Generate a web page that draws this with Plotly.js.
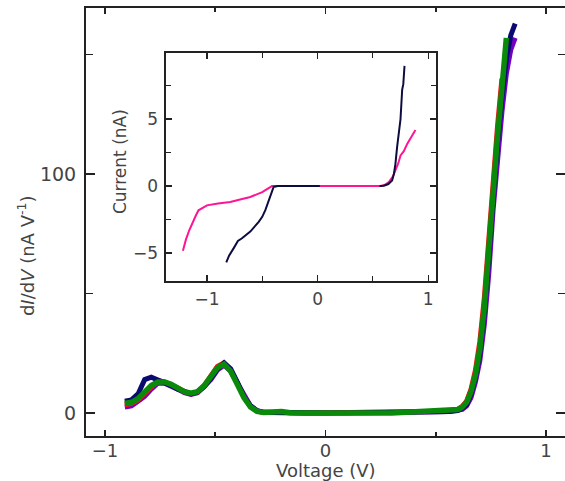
<!DOCTYPE html>
<html>
<head>
<meta charset="utf-8">
<script src="https://cdn.plot.ly/plotly-3.0.1.min.js"></script>
<style>html,body{margin:0;padding:0;background:#fff;}#chart{width:565px;height:481px;}</style>
</head>
<body>
<div id="chart"></div>
<script>
// Main panel: dI/dV (nA V^-1) vs Voltage (V), four overlapping sweeps
const voltage = [-0.91,-0.88,-0.85,-0.82,-0.79,-0.76,-0.73,-0.70,-0.67,-0.64,-0.61,-0.58,-0.55,-0.52,-0.49,-0.46,-0.43,-0.40,-0.37,-0.34,-0.31,-0.28,-0.24,-0.20,-0.16,-0.10,0.00,0.10,0.20,0.30,0.36,0.40,0.50,0.56,0.60,0.62,0.64,0.66,0.68,0.70,0.72,0.74,0.76,0.78,0.80,0.82,0.84,0.86];
const didvPurple = [2.5,3,5,7,10,12.5,12.5,11.5,10,8.5,7.8,8.5,11,14,18,20,17.5,12.5,7,3,1,0.3,0.2,0.4,0.1,0,0,0,0,0,0.2,0.4,0.5,0.6,0.9,1.5,3,6.5,13,22,37,58,85,108,126,142,152,157];
const didvRed = [3.5,4,5.5,8,11,13.5,13,12,10.5,9,8,8.7,11.5,15.5,19.5,21,18,12.5,6.8,2.8,0.8,0.2,0.3,0.5,0.1,0,0,0,0,0,0.3,0.5,0.6,0.8,1.6,2.8,5,10,18,30,48,73,100,120,140,null,null,null];
const didvNavy = [5,5.5,8,14,15,14,12.5,11.5,10,8.8,8,8.8,11,14.5,18.5,21,18.5,13,7,3,1,0.3,0.2,0.3,0.1,0,0,0,0,0,0.2,0.4,0.5,0.6,1,2,3.5,8,15,25,42,65,92,113,132,148,158,163];
const didvGreen = [4,4.5,6,8.5,11.5,13,13,12,10.5,9,8.3,9,11.5,15,19,20.5,17.5,12,6.5,2.5,0.7,0.2,0.4,0.6,0.1,0,0,0,0,0,0.3,0.5,0.6,0.8,1.5,2.5,4.5,9,16,27,44,68,96,116,136,157,null,null];

// Inset: Current (nA) vs Voltage (V)
const insetPinkV = [-1.217,-1.19,-1.16,-1.136,-1.10,-1.076,-1.0,-0.90,-0.789,-0.70,-0.608,-0.50,-0.412,-0.2,0.0,0.2,0.4,0.569,0.61,0.644,0.68,0.704,0.73,0.75,0.78,0.81,0.85,0.885];
const insetPinkI = [-4.83,-4.0,-3.3,-2.8,-2.2,-1.81,-1.44,-1.3,-1.19,-1.0,-0.82,-0.45,0,0,0,0,0,0,0.1,0.3,0.7,1.16,1.7,2.28,2.6,3.14,3.7,4.18];
const insetNavyV = [-0.825,-0.80,-0.759,-0.72,-0.683,-0.608,-0.532,-0.50,-0.472,-0.445,-0.427,-0.397,-0.36,-0.2,0.02,null,0.56,0.60,0.64,0.674,0.69,0.704,0.719,0.735,0.75,0.765,0.775,0.786];
const insetNavyI = [-5.69,-5.2,-4.65,-4.1,-3.9,-3.4,-2.67,-2.3,-1.8,-1.2,-0.69,-0.07,0,0,0,null,0,0.02,0.15,0.42,0.9,1.66,2.9,3.9,5.0,7.2,7.6,8.96];

const FONT = 'DejaVu Sans, Liberation Sans, Arial, sans-serif';
const TICKC = '#444';
const AXC = '#222';

const traces = [
  {x: voltage, y: didvPurple, mode: 'lines', line: {color: '#7400c4', width: 5}, xaxis: 'x', yaxis: 'y'},
  {x: voltage, y: didvRed, mode: 'lines', line: {color: '#ff1010', width: 5}, xaxis: 'x', yaxis: 'y'},
  {x: voltage, y: didvNavy, mode: 'lines', line: {color: '#0a0a70', width: 5}, xaxis: 'x', yaxis: 'y'},
  {x: voltage, y: didvGreen, mode: 'lines', line: {color: '#0a8a0a', width: 5.5}, xaxis: 'x', yaxis: 'y'},
  {x: insetPinkV, y: insetPinkI, mode: 'lines', line: {color: '#ff1493', width: 2}, xaxis: 'x2', yaxis: 'y2'},
  {x: insetNavyV, y: insetNavyI, mode: 'lines', line: {color: '#0c0c40', width: 2}, xaxis: 'x2', yaxis: 'y2'}
];

const layout = {
  width: 565, height: 481,
  margin: {l: 86, r: 0, t: 8, b: 45},
  paper_bgcolor: '#fff', plot_bgcolor: 'rgba(0,0,0,0)',
  showlegend: false,
  font: {family: FONT, color: TICKC},
  xaxis: {
    range: [-1.086, 1.086], dtick: 1, tick0: 0, showgrid: false, zeroline: false,
    showline: true, linecolor: AXC, linewidth: 2, mirror: 'ticks',
    ticks: 'inside', ticklen: 6, tickwidth: 1.5, tickcolor: AXC,
    minor: {dtick: 0.5, ticks: 'inside', ticklen: 4, tickcolor: AXC, tickwidth: 1.5},
    tickfont: {size: 18, color: TICKC, family: FONT}, ticklabelstandoff: -3
  },
  yaxis: {
    range: [-9.6, 169.5], dtick: 100, tick0: 0, showgrid: false, zeroline: false,
    showline: true, linecolor: AXC, linewidth: 2, mirror: 'ticks',
    ticks: 'inside', ticklen: 9, tickwidth: 1.5, tickcolor: AXC,
    minor: {dtick: 50, ticks: 'inside', ticklen: 7, tickcolor: AXC, tickwidth: 1.5},
    tickfont: {size: 19, color: TICKC, family: FONT}, ticklabelstandoff: 4
  },
  xaxis2: {
    domain: [0.167, 0.731], anchor: 'y2',
    range: [-1.37, 1.072], dtick: 1, tick0: 0, showgrid: false, zeroline: false,
    showline: true, linecolor: AXC, linewidth: 1.5, mirror: 'ticks',
    ticks: 'inside', ticklen: 6, tickwidth: 1.2, tickcolor: AXC,
    minor: {dtick: 0.5, ticks: 'inside', ticklen: 5, tickcolor: AXC, tickwidth: 1.2},
    tickfont: {size: 17, color: TICKC, family: FONT}, ticklabelstandoff: 2
  },
  yaxis2: {
    domain: [0.362, 0.895], anchor: 'x2',
    range: [-7.09, 9.93], dtick: 5, tick0: 0, showgrid: false, zeroline: false,
    showline: true, linecolor: AXC, linewidth: 1.5, mirror: 'ticks',
    ticks: 'inside', ticklen: 6, tickwidth: 1.2, tickcolor: AXC,
    minor: {dtick: 2.5, ticks: 'inside', ticklen: 5, tickcolor: AXC, tickwidth: 1.2},
    tickfont: {size: 17, color: TICKC, family: FONT}, ticklabelstandoff: 3
  },
  annotations: [
    {text: 'd<i>I</i>/d<i>V</i> (nA V<sup>-1</sup>)', xref: 'paper', yref: 'paper', x: -0.125, y: 0.4206,
     xanchor: 'center', yanchor: 'middle', textangle: -90, showarrow: false,
     font: {size: 18, color: TICKC, family: FONT}},
    {text: 'Voltage (V)', xref: 'paper', yref: 'paper', x: 0.501, y: -0.0805,
     xanchor: 'center', yanchor: 'middle', showarrow: false,
     font: {size: 18, color: TICKC, family: FONT}},
    {text: 'Current (nA)', xref: 'paper', yref: 'paper', x: 0.071, y: 0.640,
     xanchor: 'center', yanchor: 'middle', textangle: -90, showarrow: false,
     font: {size: 17, color: TICKC, family: FONT}}
  ]
};

Plotly.newPlot('chart', traces, layout, {displayModeBar: false, staticPlot: true});
</script>
</body>
</html>
